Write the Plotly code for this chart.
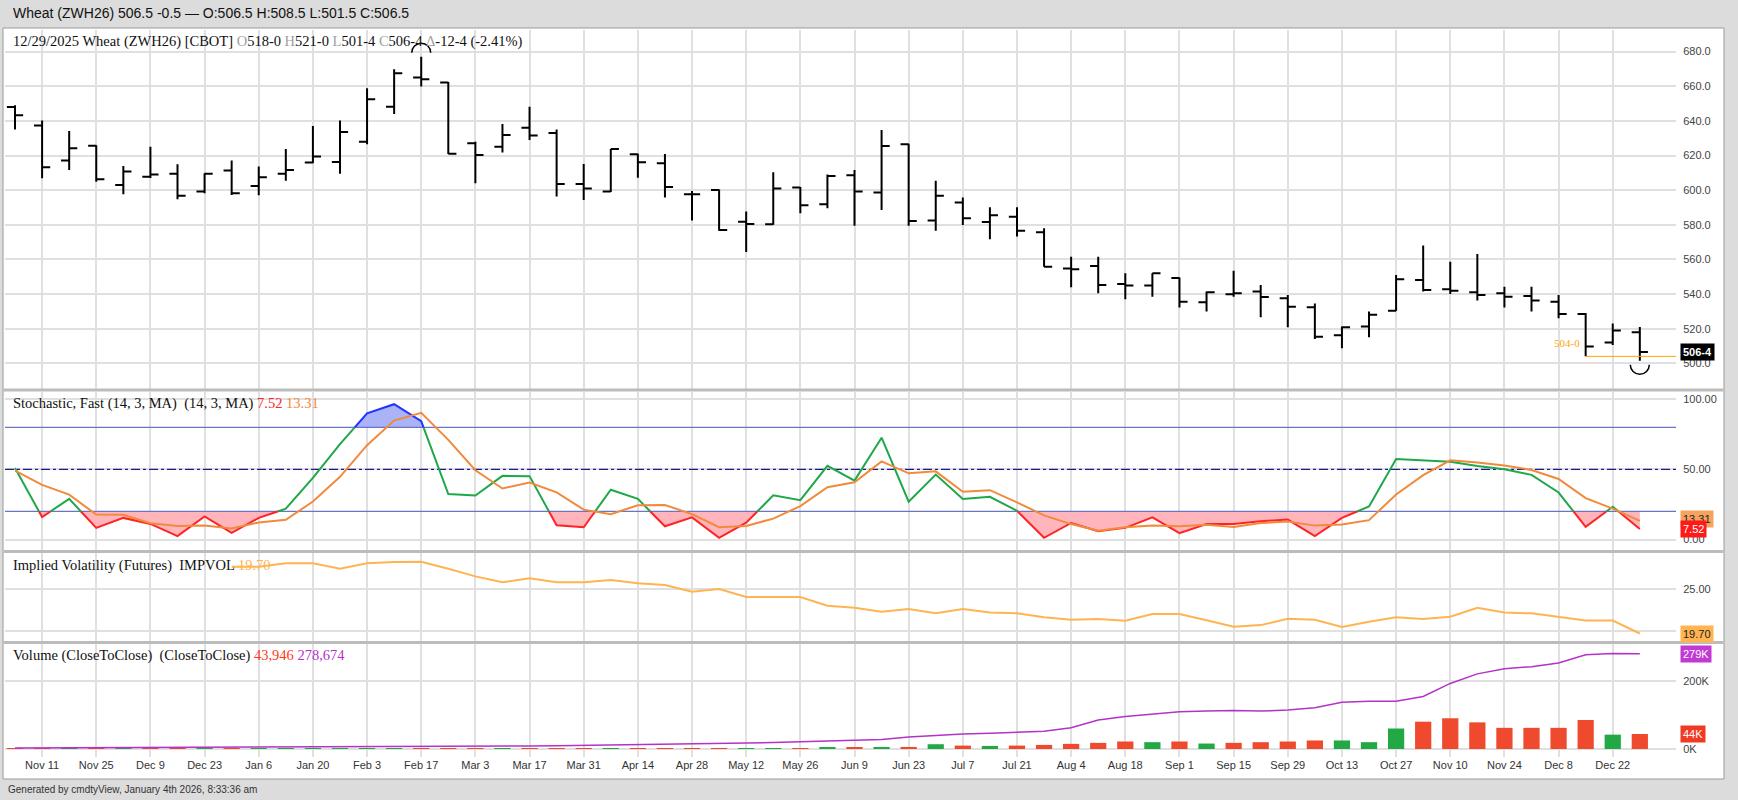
import plotly.graph_objects as go
import pandas as pd

W, H = 1738, 800

# ---------------- data ----------------
dates = ["2024-11-04", "2024-11-11", "2024-11-18", "2024-11-25", "2024-12-02", "2024-12-09",
         "2024-12-16", "2024-12-23", "2024-12-30", "2025-01-06", "2025-01-13", "2025-01-20",
         "2025-01-27", "2025-02-03", "2025-02-10", "2025-02-17", "2025-02-24", "2025-03-03",
         "2025-03-10", "2025-03-17", "2025-03-24", "2025-03-31", "2025-04-07", "2025-04-14",
         "2025-04-21", "2025-04-28", "2025-05-05", "2025-05-12", "2025-05-19", "2025-05-26",
         "2025-06-02", "2025-06-09", "2025-06-16", "2025-06-23", "2025-06-30", "2025-07-07",
         "2025-07-14", "2025-07-21", "2025-07-28", "2025-08-04", "2025-08-11", "2025-08-18",
         "2025-08-25", "2025-09-01", "2025-09-08", "2025-09-15", "2025-09-22", "2025-09-29",
         "2025-10-06", "2025-10-13", "2025-10-20", "2025-10-27", "2025-11-03", "2025-11-10",
         "2025-11-17", "2025-11-24", "2025-12-01", "2025-12-08", "2025-12-15", "2025-12-22",
         "2025-12-29"]

opens = [648.0, 637.3, 617.1, 625.7, 603.0, 607.8, 609.4, 599.2, 611.3, 602.4, 609.4, 615.9,
         616.3, 628.0, 648.2, 665.0, 662.1, 627.1, 625.1, 636.1, 633.0, 603.6, 599.2, 620.7,
         615.5, 597.6, 600.1, 581.8, 580.3, 601.5, 591.8, 608.6, 598.6, 626.5, 582.4, 592.8,
         581.6, 584.7, 575.7, 554.7, 556.2, 545.8, 544.9, 549.3, 535.2, 539.9, 541.4, 537.5,
         532.3, 516.2, 521.2, 530.4, 548.1, 542.7, 541.0, 540.4, 538.9, 535.5, 528.5, 512.0,
         518.0]
highs = [649.0, 640.2, 634.2, 626.0, 614.0, 625.1, 614.9, 609.7, 617.1, 613.6, 623.8, 637.1,
         640.2, 658.8, 669.8, 677.1, 662.5, 628.0, 638.2, 648.2, 635.0, 615.1, 623.8, 621.0,
         620.9, 599.5, 600.4, 587.6, 610.3, 601.8, 609.0, 611.7, 634.8, 626.8, 605.5, 595.7,
         590.1, 590.1, 578.0, 561.6, 561.6, 552.0, 552.0, 549.6, 541.4, 553.5, 545.2, 539.5,
         534.6, 521.2, 529.9, 551.0, 568.0, 558.7, 563.1, 544.2, 544.2, 539.5, 529.0, 523.0,
         521.0]
lows = [635.0, 606.9, 611.7, 604.9, 597.6, 607.0, 594.7, 598.2, 597.2, 597.0, 605.5, 615.5,
        609.4, 626.5, 644.0, 659.8, 620.9, 604.0, 621.7, 629.0, 596.3, 594.3, 599.0, 607.2,
        595.7, 582.4, 576.6, 564.3, 580.0, 586.6, 589.5, 579.5, 588.6, 579.5, 576.6, 579.9,
        571.6, 573.2, 555.8, 543.9, 540.4, 537.0, 538.5, 532.2, 529.9, 538.5, 526.6, 520.8,
        514.0, 508.7, 515.0, 530.2, 541.4, 540.0, 536.3, 532.2, 529.9, 526.0, 504.0, 510.5,
        501.5]
closes = [643.2, 613.2, 624.2, 606.3, 610.7, 609.0, 596.8, 609.4, 598.2, 607.4, 611.7, 619.4,
          633.6, 652.5, 667.5, 664.0, 621.0, 620.3, 631.9, 631.5, 603.6, 600.9, 623.8, 616.1,
          601.8, 597.6, 577.0, 580.5, 600.9, 591.3, 608.2, 599.2, 625.5, 582.2, 596.8, 583.8,
          585.5, 576.6, 555.8, 554.3, 545.2, 544.9, 552.0, 535.6, 541.0, 540.4, 538.3, 532.7,
          515.4, 520.8, 528.0, 548.5, 542.3, 541.9, 539.5, 538.5, 536.2, 528.5, 509.75, 519.0,
          506.5]

stoch_k = [51, 16, 29, 8.3, 15.4, 11.1, 2.4, 16.5, 4.7, 15.4, 22, 44, 68, 90, 96.5, 84.4,
           32.4, 31.4, 45.4, 45.2, 10.1, 8.7, 35.5, 29, 9.4, 15.8, 1.2, 12, 31.5, 28, 52.5, 42,
           72.6, 27, 46.3, 28.9, 30.5, 20.5, 1.2, 11.8, 5.9, 8.3, 15.8, 4.5, 11.1, 11.1, 13,
           14.2, 2.4, 15.4, 23.6, 57.4, 56.7, 55.5, 52.5, 50.1, 46.1, 33.5, 9.0, 23.4, 7.52]
stoch_d = [49.2, 39, 32, 17.8, 17.6, 11.6, 9.6, 10, 7.9, 12.2, 14, 27.1, 44.7, 67.3, 84.8,
           90.3, 71.1, 49.4, 36.4, 40.7, 33.6, 21.3, 18.1, 24.4, 24.6, 18.1, 8.8, 9.7, 14.9,
           23.8, 37.3, 40.8, 55.7, 47.2, 48.6, 34.1, 35.2, 26.5, 17.2, 11, 6.3, 8.7, 10, 9.5,
           10.5, 8.9, 11.7, 12.8, 9.9, 10.7, 13.8, 32.1, 45.9, 56.5, 54.9, 52.7, 49.6, 43.2,
           29.5, 22, 13.31]

impvol = [None, None, None, None, None, None, None, None,
          27.65, 27.65, 28.06, 28.06, 27.4, 28.06, 28.2, 28.25, 27.4, 26.5, 25.8, 26.27, 25.8,
          25.8, 26.07, 25.68, 25.48, 24.68, 25.0, 24.05, 24.05, 24.05, 23.0, 22.77, 22.3, 22.62,
          22.1, 22.62, 22.2, 22.1, 21.63, 21.35, 21.43, 21.23, 22.02, 22.02, 21.27, 20.5, 20.7,
          21.46, 21.35, 20.48, 21.1, 21.63, 21.43, 21.7, 22.77, 22.2, 22.1, 21.7, 21.25, 21.25,
          19.70]

volume = [800, 1200, 900, 1000, 900, 1100, 1300, 900, 1000, 1200, 1300, 1600, 1500, 2200,
          2400, 2100, 2600, 1800, 1700, 1900, 2300, 2000, 2100, 1900, 2400, 2200, 2500, 2800,
          2700, 2600, 3000, 3500, 4200, 6000, 14000, 10000, 9000, 10000, 12000, 15000, 18000,
          22000, 20000, 22000, 16000, 18000, 20000, 22000, 25000, 25000, 20000, 60000, 80000,
          90000, 78000, 62000, 62000, 62000, 85000, 42000, 43946]
open_int = [3000, 3200, 3400, 3600, 3800, 4000, 4200, 4400, 4600, 4800, 5000, 5300, 5600,
            6000, 6500, 7000, 7500, 8000, 8500, 9000, 9500, 10500, 11500, 12500, 13500, 15000,
            16000, 17500, 19000, 21000, 23000, 25500, 28000, 35000, 40000, 44000, 46000, 48000,
            52000, 62000, 85000, 95000, 102000, 109000, 111000, 113000, 111000, 114000, 121000,
            137000, 140000, 140000, 154000, 192000, 220000, 235000, 241000, 252000, 276000,
            280000, 278674]

tick_dates = ["2024-11-11", "2024-11-25", "2024-12-09", "2024-12-23", "2025-01-06", "2025-01-20",
              "2025-02-03", "2025-02-17", "2025-03-03", "2025-03-17", "2025-03-31", "2025-04-14",
              "2025-04-28", "2025-05-12", "2025-05-26", "2025-06-09", "2025-06-23", "2025-07-07",
              "2025-07-21", "2025-08-04", "2025-08-18", "2025-09-01", "2025-09-15", "2025-09-29",
              "2025-10-13", "2025-10-27", "2025-11-10", "2025-11-24", "2025-12-08", "2025-12-22"]
tick_labels = ["Nov 11", "Nov 25", "Dec 9", "Dec 23", "Jan 6", "Jan 20", "Feb 3", "Feb 17",
               "Mar 3", "Mar 17", "Mar 31", "Apr 14", "Apr 28", "May 12", "May 26", "Jun 9",
               "Jun 23", "Jul 7", "Jul 21", "Aug 4", "Aug 18", "Sep 1", "Sep 15", "Sep 29",
               "Oct 13", "Oct 27", "Nov 10", "Nov 24", "Dec 8", "Dec 22"]

price_ticks = [500, 520, 540, 560, 580, 600, 620, 640, 660, 680]
stoch_ticks = [0, 50, 100]
iv_ticks = [20, 25]
vol_ticks = [0, 200000]
support_level = 504.0
support_start = "2025-12-15"

# ---------------- layout helpers (pixels) ----------------
PLOT_L, PLOT_R = 5, 1676


def fx(px):
    return px / W


def fy(px):
    return 1 - px / H


ref_day = pd.Timestamp("2024-11-11")
px_per_day = 27.08 / 7


def px2date(px):
    return ref_day + pd.Timedelta(days=(px - 42.1) / px_per_day)


x_range = [px2date(PLOT_L), px2date(PLOT_R)]


def lin(y, ya, va, yb, vb):
    return va + (y - ya) * (vb - va) / (yb - ya)


P_TOP, P_BOT = 30, 388.5
S_TOP, S_BOT = 391.5, 550
I_TOP, I_BOT = 553, 641
V_TOP, V_BOT = 644, 757
price_cal = (363.3, 500, 363.3 - 9 * 34.63, 680)
stoch_cal = (539.5, 0, 399.3, 100)
iv_cal = (631, 20, 589, 25)
vol_cal = (749, 0, 680.7, 200000)


def rng(top, bot, cal):
    return [lin(bot, *cal), lin(top, *cal)]


GREEN = "#1fa84a"
RED = "#ff2424"
BLUE = "#2233ff"
ORANGE = "#f28a3c"
IVCOL = "#ffb451"
PURPLE = "#b432c8"
GRID = "#e0e0e0"

fig = go.Figure()

# ---- price bars ----
fig.add_trace(go.Ohlc(x=dates, open=opens, high=highs, low=lows, close=closes,
                      increasing=dict(line=dict(color="black", width=2)),
                      decreasing=dict(line=dict(color="black", width=2)),
                      tickwidth=0.3, xaxis="x", yaxis="y", hoverinfo="skip"))
fig.add_trace(go.Scatter(x=[support_start, x_range[1]], y=[support_level, support_level],
                         mode="lines", line=dict(color="#ffa500", width=1),
                         xaxis="x", yaxis="y", hoverinfo="skip"))

# ---- stochastic ----
xd = pd.to_datetime(dates)
tnum = [(d - xd[0]).total_seconds() / 86400 for d in xd]


def t2d(t):
    return xd[0] + pd.Timedelta(days=t)


pts = [(tnum[0], stoch_k[0])]
for i in range(len(stoch_k) - 1):
    t0, v0, t1, v1 = tnum[i], stoch_k[i], tnum[i + 1], stoch_k[i + 1]
    levels = [L for L in (20, 80) if (v0 - L) * (v1 - L) < 0]
    levels.sort(key=lambda L: (L - v0) / (v1 - v0))
    for L in levels:
        f = (L - v0) / (v1 - v0)
        pts.append((t0 + f * (t1 - t0), L))
    pts.append((t1, v1))


def cls(v):
    return "lo" if v < 20 else ("hi" if v > 80 else "mid")


segs = []
for a, b in zip(pts[:-1], pts[1:]):
    c = cls((a[1] + b[1]) / 2)
    if segs and segs[-1][0] == c:
        segs[-1][1].append(b)
    else:
        segs.append((c, [a, b]))

for c, sp in segs:
    if c == "mid":
        continue
    lvl = 20 if c == "lo" else 80
    poly = sp + [(sp[-1][0], lvl), (sp[0][0], lvl)]
    fig.add_trace(go.Scatter(x=[t2d(p[0]) for p in poly], y=[p[1] for p in poly],
                             mode="lines", fill="toself",
                             fillcolor="#ffb5bb" if c == "lo" else "#aab3f6",
                             line=dict(width=0), xaxis="x2", yaxis="y2", hoverinfo="skip"))

for lvl, col, dash in ((80, "#6b74c4", "solid"), (20, "#6b74c4", "solid"), (50, "#1c1c88", "dashdot")):
    fig.add_trace(go.Scatter(x=[x_range[0], x_range[1]], y=[lvl, lvl], mode="lines",
                             line=dict(color=col, width=1.2, dash=dash),
                             xaxis="x2", yaxis="y2", hoverinfo="skip"))

for c, col in (("mid", GREEN), ("lo", RED), ("hi", BLUE)):
    xs, ys = [], []
    for cc, sp in segs:
        if cc != c:
            continue
        xs += [t2d(p[0]) for p in sp] + [None]
        ys += [p[1] for p in sp] + [None]
    fig.add_trace(go.Scatter(x=xs, y=ys, mode="lines", line=dict(color=col, width=2),
                             xaxis="x2", yaxis="y2", hoverinfo="skip"))

fig.add_trace(go.Scatter(x=dates, y=stoch_d, mode="lines", line=dict(color=ORANGE, width=2),
                         xaxis="x2", yaxis="y2", hoverinfo="skip"))

# ---- implied vol ----
fig.add_trace(go.Scatter(x=dates, y=impvol, mode="lines", line=dict(color=IVCOL, width=2),
                         xaxis="x3", yaxis="y3", hoverinfo="skip"))

# ---- volume / OI ----
vol_colors = ["#f04a2e"] + ["#22a845" if closes[i] >= closes[i - 1] else "#f04a2e"
                            for i in range(1, len(closes))]
fig.add_trace(go.Bar(x=dates, y=volume, marker=dict(color=vol_colors, line=dict(width=0)),
                     width=0.6 * 7 * 86400000, xaxis="x4", yaxis="y4", hoverinfo="skip"))
fig.add_trace(go.Scatter(x=dates, y=open_int, mode="lines", line=dict(color=PURPLE, width=1.5),
                         xaxis="x4", yaxis="y4", hoverinfo="skip"))

# ---------------- axes ----------------
common_x = dict(type="date", range=x_range, tickvals=tick_dates, ticktext=tick_labels,
                showgrid=True, gridcolor=GRID, gridwidth=1.5, zeroline=False, showline=False,
                ticks="", fixedrange=True, domain=[fx(PLOT_L), fx(PLOT_R)],
                rangeslider=dict(visible=False))
axfont = dict(family="Liberation Sans, Arial", size=11, color="#444")
common_y = dict(side="right", showgrid=True, gridcolor=GRID, gridwidth=1.5, zeroline=False,
                showline=False, ticks="outside", ticklen=4, tickcolor="rgba(0,0,0,0)",
                tickfont=axfont, fixedrange=True)

fig.update_layout(
    width=W, height=800, margin=dict(l=0, r=0, t=0, b=0),
    paper_bgcolor="#dcdcdc", plot_bgcolor="white", showlegend=False,
    xaxis=dict(common_x, anchor="y", showticklabels=False),
    xaxis2=dict(common_x, anchor="y2", showticklabels=False, matches="x"),
    xaxis3=dict(common_x, anchor="y3", showticklabels=False, matches="x"),
    xaxis4=dict(common_x, anchor="y4", showticklabels=True, matches="x",
                tickfont=dict(family="Liberation Sans, Arial", size=11, color="#333")),
    yaxis=dict(common_y, anchor="x", domain=[fy(P_BOT), fy(P_TOP)], range=rng(P_TOP, P_BOT, price_cal),
               tickvals=price_ticks, ticktext=[f"{v:.1f}" for v in price_ticks]),
    yaxis2=dict(common_y, anchor="x2", domain=[fy(S_BOT), fy(S_TOP)], range=rng(S_TOP, S_BOT, stoch_cal),
                tickvals=stoch_ticks, ticktext=[f"{v:.2f}" for v in stoch_ticks]),
    yaxis3=dict(common_y, anchor="x3", domain=[fy(I_BOT), fy(I_TOP)], range=rng(I_TOP, I_BOT, iv_cal),
                tickvals=iv_ticks, ticktext=[f"{v:.2f}" for v in iv_ticks]),
    yaxis4=dict(common_y, anchor="x4", domain=[fy(V_BOT), fy(V_TOP)], range=rng(V_TOP, V_BOT, vol_cal),
                tickvals=vol_ticks, ticktext=[f"{v // 1000}K" for v in vol_ticks]),
)

# ---------------- shapes ----------------
shapes = [
    dict(type="rect", xref="paper", yref="paper", x0=fx(3), x1=fx(1724), y0=fy(779), y1=fy(28),
         fillcolor="white", line=dict(color="#9a9a9a", width=1), layer="below"),
]
for ypx in (390, 551.5, 642.5):
    shapes.append(dict(type="line", xref="paper", yref="paper", x0=fx(3.5), x1=fx(1723.5),
                       y0=fy(ypx), y1=fy(ypx), line=dict(color="#bcbcbc", width=3), layer="above"))

hi_i = max(range(len(highs)), key=lambda i: highs[i])
lo_i = min(range(len(lows)), key=lambda i: lows[i])
r, k, d = 9.5, 5.25, 4
arc_up = f"M {-r},{d} C {-r},{d + k} {-k},{d + r} 0,{d + r} C {k},{d + r} {r},{d + k} {r},{d}"
arc_dn = f"M {-r},{-d} C {-r},{-d - k} {-k},{-d - r} 0,{-d - r} C {k},{-d - r} {r},{-d - k} {r},{-d}"
shapes.append(dict(type="path", xref="x", yref="y", xsizemode="pixel", ysizemode="pixel",
                   xanchor=dates[hi_i], yanchor=highs[hi_i], path=arc_up,
                   line=dict(color="black", width=1.5)))
shapes.append(dict(type="path", xref="x", yref="y", xsizemode="pixel", ysizemode="pixel",
                   xanchor=dates[lo_i], yanchor=lows[lo_i], path=arc_dn,
                   line=dict(color="black", width=1.5)))
fig.update_layout(shapes=shapes)

# ---------------- annotations ----------------
serif = "Liberation Serif, Times New Roman, serif"
sans = "Liberation Sans, Arial, sans-serif"
G = "<span style='color:#a0a0a0'>"
ann = []


def label(txt, ypx, size=14.5, family=serif, color="#111", xpx=11):
    ann.append(dict(xref="paper", yref="paper", x=fx(xpx), y=fy(ypx), xanchor="left",
                    yanchor="middle", text=txt, showarrow=False,
                    font=dict(family=family, size=size, color=color)))


label("Wheat (ZWH26) 506.5 -0.5 \u2014 O:506.5 H:508.5 L:501.5 C:506.5", 13, size=14, family=sans)
label(f"12/29/2025 Wheat (ZWH26) [CBOT] {G}O</span>518-0 {G}H</span>521-0 {G}L</span>501-4 "
      f"{G}C</span>506-4 {G}\u0394</span>-12-4 (-2.41%)", 41)
label("Stochastic, Fast (14, 3, MA)\u00a0 (14, 3, MA) "
      f"<span style='color:{RED}'>7.52</span> <span style='color:{ORANGE}'>13.31</span>", 403)
label(f"Implied Volatility (Futures)\u00a0 IMPVOL <span style='color:{IVCOL}'>19.70</span>", 565)
label("Volume (CloseToClose)\u00a0 (CloseToClose) "
      f"<span style='color:#ff3a22'>43,946</span> <span style='color:{PURPLE}'>278,674</span>", 655)
label("Generated by cmdtyView, January 4th 2026, 8:33:36 am", 789, size=10, family=sans,
      color="#333", xpx=6)


def box(txt, yref, yval, bg, fg, bold=False):
    ann.append(dict(xref="paper", yref=yref, x=fx(1680), y=yval, xanchor="left", yanchor="middle",
                    text=f"<b>{txt}</b>" if bold else txt, showarrow=False, bgcolor=bg,
                    borderpad=2, font=dict(family=sans, size=11, color=fg)))


box("506-4", "y", closes[-1], "black", "white", bold=True)
box("13.31", "y2", 14.8, "#f5a35e", "#222")
box("7.52", "y2", stoch_k[-1], "#ff1a1a", "white")
box("19.70", "y3", impvol[-1], IVCOL, "#222")
box("279K", "y4", open_int[-1], "#c23ad4", "white")
box("44K", "y4", volume[-1], "#f03a24", "white")

ann.append(dict(xref="x", yref="y", x=support_start, y=support_level, xanchor="right",
                yanchor="middle", xshift=-4, yshift=13, text="504-0", showarrow=False,
                font=dict(family=serif, size=11, color="#ffa500")))

fig.update_layout(annotations=ann)

fig.write_html("out.html", config={"displayModeBar": False},
               post_script="document.body.style.margin='0px';document.body.style.overflow='hidden';")
